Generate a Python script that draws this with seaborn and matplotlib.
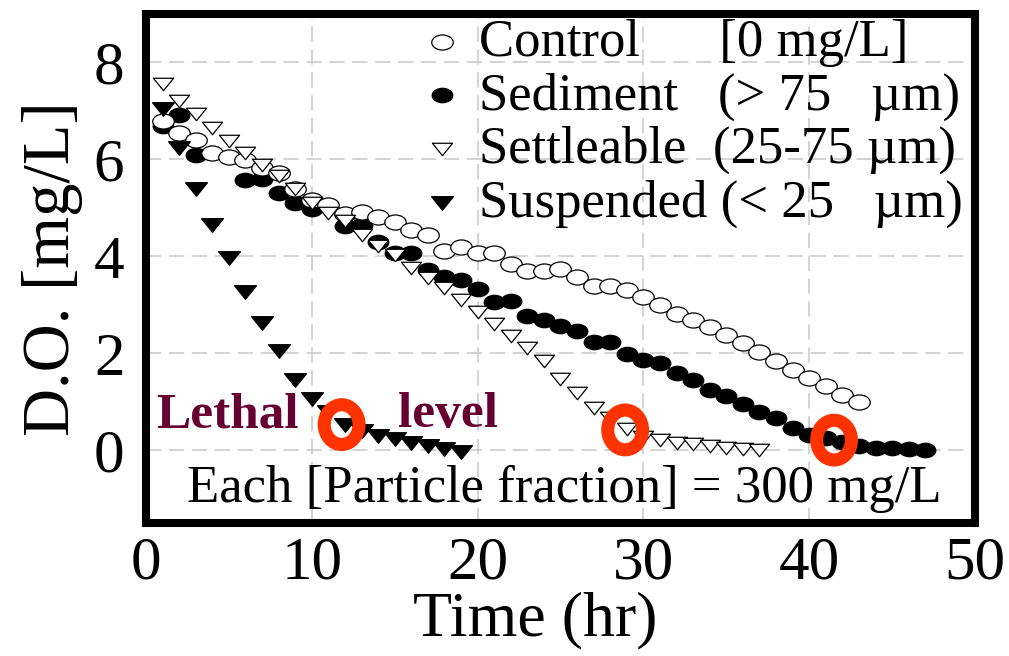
import numpy as np
import pandas as pd
import matplotlib
matplotlib.use("Agg")
import matplotlib.pyplot as plt
from matplotlib.path import Path
from matplotlib.transforms import Affine2D
from matplotlib.patches import Ellipse
import seaborn as sns

# ---------------- data ----------------
hours_control = list(range(1, 44))
do_control = [6.80, 6.55, 6.40, 6.14, 6.05, 5.98, 5.83, 5.73, 5.38, 5.17,
              5.06, 4.87, 4.92, 4.82, 4.70, 4.54, 4.44, 4.12, 4.20, 4.06,
              4.06, 3.85, 3.69, 3.69, 3.73, 3.58, 3.38, 3.38, 3.31, 3.16,
              2.99, 2.82, 2.68, 2.54, 2.37, 2.21, 2.02, 1.85, 1.66, 1.50,
              1.33, 1.14, 1.00]

hours_sediment = list(range(1, 48))
do_sediment = [6.69, 6.91, 6.10, np.nan, np.nan, 5.57, 5.60, 5.30, 5.10, 4.98,
               np.nan, 4.63, 4.65, 4.30, 4.06, 4.07, 3.71, 3.58, 3.52, 3.33,
               3.05, 3.08, 2.78, 2.68, 2.56, 2.46, 2.24, 2.24, 1.98, 1.86,
               1.81, 1.59, 1.45, 1.24, 1.13, 0.95, 0.80, 0.66, 0.46, 0.32,
               0.26, 0.18, 0.08, 0.05, 0.05, 0.03, 0.01]

hours_settleable = list(range(1, 38))
do_settleable = [7.55, 7.21, 6.93, 6.65, 6.39, 6.13, 5.88, 5.66, 5.38, 5.10,
                 4.90, 4.74, 4.45, 4.22, 4.02, 3.77, 3.55, 3.34, 3.11, 2.85,
                 2.60, 2.35, 2.10, 1.85, 1.48, 1.19, 0.87, 0.66, 0.44, 0.27,
                 0.22, 0.16, 0.12, 0.08, 0.05, 0.02, 0.00]

hours_suspended = list(range(1, 20))
do_suspended = [7.03, 6.23, 5.38, 4.64, 3.96, 3.26, 2.63, 2.05, 1.45, 1.05,
                0.80, 0.52, 0.40, 0.30, 0.23, 0.16, 0.09, 0.03, -0.03]

lethal_t = [11.8, 28.9, 41.5]
lethal_do = [0.53, 0.42, 0.21]

labels = ["Control      [0 mg/L]",
          "Sediment   (> 75   \u00b5m)",
          "Settleable  (25-75 \u00b5m)",
          "Suspended (< 25   \u00b5m)"]

x_ticks = [0, 10, 20, 30, 40, 50]
y_ticks = [0, 2, 4, 6, 8]

# ---------------- style ----------------
sns.set_theme(style="white")
plt.rcParams["font.family"] = ["Liberation Serif", "DejaVu Serif"]
plt.rcParams["text.color"] = "black"
plt.rcParams["axes.labelcolor"] = "black"
plt.rcParams["xtick.color"] = "black"
plt.rcParams["ytick.color"] = "black"

fig = plt.figure(figsize=(10.09, 6.56), dpi=100)
ax = fig.add_axes([0.1447, 0.2027, 0.8216, 0.7760])

# custom (slightly flattened) markers
ell = Path.unit_circle().transformed(Affine2D().scale(1.0, 0.70))
tri = Path([(-1, 0.62), (1, 0.62), (0, -0.62), (-1, 0.62)], closed=True)

df_sed = pd.DataFrame({"t": hours_sediment, "do": do_sediment})
df_con = pd.DataFrame({"t": hours_control, "do": do_control})
df_set = pd.DataFrame({"t": hours_settleable, "do": do_settleable})
df_sus = pd.DataFrame({"t": hours_suspended, "do": do_suspended})

sns.scatterplot(data=df_con, x="t", y="do", ax=ax, marker=ell, s=240,
                color="white", edgecolor="black", linewidth=0.9,
                zorder=4, label=labels[0])
sns.scatterplot(data=df_sed, x="t", y="do", ax=ax, marker=ell, s=220,
                color="black", edgecolor="black", linewidth=0.9,
                zorder=3, label=labels[1])
sns.scatterplot(data=df_set, x="t", y="do", ax=ax, marker=tri, s=210,
                color="white", edgecolor="black", linewidth=0.9,
                zorder=5, label=labels[2])
sns.scatterplot(data=df_sus, x="t", y="do", ax=ax, marker=tri, s=250,
                color="black", edgecolor="black", linewidth=0.9,
                zorder=6, label=labels[3])

# lethal-level rings
for t, d in zip(lethal_t, lethal_do):
    ax.add_patch(Ellipse((t, d), width=2.1, height=0.82, fill=False,
                         edgecolor="#ff3300", linewidth=9.4, zorder=7))

ax.text(0.6, 0.48, "Lethal", color="#660033", fontsize=37,
        fontweight="bold", va="baseline", ha="left", zorder=8)
ax.text(15.2, 0.48, "level", color="#660033", fontsize=37,
        fontweight="bold", va="baseline", ha="left", zorder=8)
ax.text(2.5, -1.06, "Each [Particle fraction] = 300 mg/L", fontsize=38,
        color="black", va="baseline", ha="left", zorder=8)

# axes
ax.set_xlim(0, 50)
ax.set_ylim(-1.5, 9)
ax.set_xticks(x_ticks)
ax.set_yticks(y_ticks)
ax.grid(True, color="#c8c8c8", linestyle=(0, (10, 5)), linewidth=1.1)
ax.set_axisbelow(True)
for sp in ax.spines.values():
    sp.set_linewidth(5.8)
    sp.set_color("black")
ax.tick_params(axis="y", direction="inout", length=19, width=3,
               labelsize=44, pad=6, colors="black")
ax.tick_params(axis="x", direction="inout", length=11, width=3,
               labelsize=44, pad=4, colors="black")
ax.set_xlabel("Time (hr)", fontsize=46, labelpad=0, color="black")
ax.xaxis.label.set_x(0.47)
ax.set_ylabel("D.O. [mg/L]", fontsize=48, labelpad=8, color="black")

leg = ax.legend(loc="upper left", bbox_to_anchor=(0.332, 0.99), frameon=False,
                fontsize=38, handlelength=0.8, handletextpad=0.3,
                labelspacing=0.1, borderpad=0.0, borderaxespad=0.0,
                scatterpoints=1)
for txt in leg.get_texts():
    txt.set_color("black")

fig.savefig("out.png", dpi=100)
